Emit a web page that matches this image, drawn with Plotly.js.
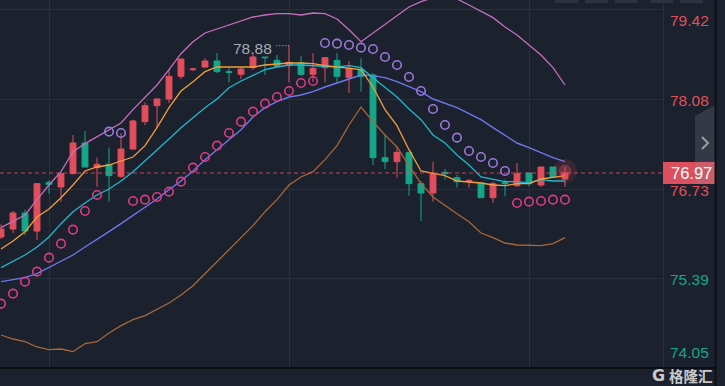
<!DOCTYPE html>
<html>
<head>
<meta charset="utf-8">
<script src="https://cdn.plot.ly/plotly-3.0.1.min.js"></script>
<style>
html,body{margin:0;padding:0;background:#1b212d;}
#chart{width:725px;height:386px;}
</style>
</head>
<body>
<div id="chart"></div>
<script>
// ---- data ----
const open  = [76.01,76.13,76.37,76.10,76.83,76.76,76.96,77.42,77.05,77.10,76.92,77.33,77.74,77.98,78.08,78.42,78.52,78.56,78.65,78.49,78.45,78.55,78.71,78.66,78.58,78.62,78.45,78.55,78.66,78.40,78.52,78.44,77.20,77.14,77.28,76.81,76.67,76.98,76.90,76.84,76.82,76.60,76.83,76.78,76.97,76.79,77.06,76.88];
const high  = [76.20,76.40,76.42,76.82,76.86,76.97,77.54,77.60,77.20,77.35,77.57,77.77,78.03,78.09,78.53,78.68,78.55,78.69,78.77,78.54,78.56,78.77,78.71,78.74,78.88,78.72,78.77,78.70,78.77,78.65,78.69,78.47,77.54,77.36,77.28,76.85,77.14,77.03,76.94,76.88,76.82,76.84,76.87,77.12,76.97,77.06,77.06,77.06];
const low   = [75.98,76.07,76.04,75.97,76.66,76.54,76.95,77.06,76.76,76.54,76.90,77.32,77.69,77.65,78.02,78.38,78.50,78.54,78.47,78.33,78.38,78.52,78.44,78.55,78.33,78.42,78.33,78.33,78.33,78.17,78.19,77.09,77.03,76.90,76.63,76.25,76.54,76.87,76.75,76.75,76.60,76.52,76.62,76.76,76.77,76.76,76.90,76.76];
const close = [76.13,76.37,76.10,76.81,76.80,76.96,77.42,77.06,77.10,76.93,77.33,77.75,77.98,78.08,78.42,78.68,78.53,78.65,78.49,78.48,78.53,78.71,78.70,78.57,78.63,78.45,78.54,78.70,78.42,78.54,78.42,77.20,77.14,77.28,76.81,76.67,76.96,76.96,76.84,76.86,76.60,76.81,76.81,76.96,76.81,77.06,76.91,76.97];

const ma5   = [75.83,75.95,76.09,76.31,76.43,76.60,76.79,77.00,77.06,77.09,77.15,77.21,77.38,77.65,77.95,78.20,78.34,78.49,78.56,78.56,78.55,78.56,78.59,78.61,78.62,78.62,78.61,78.58,78.56,78.55,78.52,78.26,77.92,77.68,77.32,77.00,76.97,76.93,76.85,76.84,76.82,76.79,76.78,76.81,76.81,76.88,76.90,76.93];
const ma10  = [75.55,75.64,75.74,75.86,76.01,76.21,76.39,76.52,76.64,76.73,76.85,76.99,77.15,77.32,77.48,77.65,77.80,77.95,78.08,78.25,78.35,78.44,78.52,78.56,78.59,78.59,78.58,78.58,78.56,78.58,78.55,78.40,78.25,78.11,77.93,77.77,77.54,77.42,77.24,77.09,76.91,76.87,76.84,76.84,76.82,76.87,76.85,76.85];
const bollMid   = [75.34,75.37,75.40,75.46,75.55,75.64,75.74,75.86,75.97,76.09,76.21,76.33,76.46,76.58,76.72,76.85,77.00,77.17,77.32,77.47,77.62,77.81,77.95,78.04,78.11,78.14,78.19,78.26,78.32,78.38,78.44,78.43,78.40,78.34,78.26,78.19,78.08,78.02,77.95,77.86,77.77,77.65,77.53,77.42,77.35,77.27,77.20,77.14];
const bollUpper = [76.15,76.24,76.34,76.57,76.79,76.99,77.29,77.41,77.51,77.62,77.72,77.92,78.11,78.29,78.52,78.76,78.94,79.07,79.13,79.19,79.24,79.31,79.34,79.36,79.36,79.34,79.37,79.36,79.28,79.12,78.94,79.07,79.21,79.34,79.46,79.54,79.60,79.61,79.58,79.49,79.40,79.30,79.16,79.04,78.89,78.74,78.55,78.29];
const bollLower = [74.54,74.48,74.44,74.36,74.32,74.33,74.29,74.41,74.44,74.57,74.68,74.77,74.83,74.92,75.02,75.14,75.28,75.46,75.64,75.82,76.00,76.18,76.39,76.57,76.79,76.91,76.99,77.17,77.38,77.69,77.96,77.74,77.54,77.36,77.08,76.81,76.61,76.48,76.36,76.24,76.07,76.00,75.92,75.89,75.88,75.88,75.91,76.00];
const sar = [75.01,75.16,75.34,75.49,75.70,75.91,76.12,76.40,76.64,77.59,77.57,76.55,76.57,76.61,76.69,76.84,77.05,77.21,77.38,77.57,77.74,77.89,78.01,78.11,78.20,78.32,78.35,78.92,78.91,78.89,78.85,78.83,78.71,78.59,78.41,78.20,77.93,77.69,77.50,77.30,77.21,77.12,77.00,76.52,76.54,76.55,76.57,76.57];

const yTickVals = [79.42, 78.08, 76.73, 75.39, 74.05];
const yTickText = ["79.42", "78.08", "76.73", "75.39", "74.05"];
const xGridIdx = [4, 24, 44];

// ---- styling / layout ----
const BG = '#1b212d', GRID = '#29303c', RED = '#e24f5c', GREEN = '#14a78a';
const W = 725, H = 386, PL = 0, PR = 663, PT = 0, PB = 368;
const x = close.map((_, i) => i);
const n = close.length;
const pxPerIdx = 12;
const xr = [-(1 - PL) / pxPerIdx, (PR - 1) / pxPerIdx];
const yr = [74.045, 79.565];
const valPerPx = (yr[1] - yr[0]) / (PB - PT);
const px2paperX = p => (p - PL) / (PR - PL);
const px2paperY = p => 1 - (p - PT) / (PB - PT);

const lineTrace = (y, color, w) => ({type: 'scatter', mode: 'lines', x: x, y: y,
  line: {color: color, width: w || 1.3, shape: 'linear'}, hoverinfo: 'skip', showlegend: false, cliponaxis: true});

const sarUp = sar.map((s, i) => s > close[i]);
const traces = [
  lineTrace(bollUpper, '#c66fbd', 1.3),
  lineTrace(bollLower, '#a8673a', 1.3),
  {type: 'candlestick', x: x, open: open, high: high, low: low, close: close,
   increasing: {line: {color: RED, width: 1}, fillcolor: RED},
   decreasing: {line: {color: GREEN, width: 1}, fillcolor: GREEN},
   whiskerwidth: 0, hoverinfo: 'skip', showlegend: false},
  lineTrace(bollMid, '#6e78ee', 1.4),
  lineTrace(ma10, '#21b8cc', 1.3),
  lineTrace(ma5, '#f39d38', 1.3),
  {type: 'scatter', mode: 'markers', x: x, y: sar, hoverinfo: 'skip', showlegend: false,
   marker: {symbol: 'circle-open', size: 8.5, line: {width: 1.6},
            color: sarUp.map(u => u ? '#9c78dc' : '#df3a86')}},
  {type: 'scatter', mode: 'markers', x: [n - 1, n - 1], y: [close[n - 1] + 0.03, close[n - 1] + 0.03],
   hoverinfo: 'skip', showlegend: false,
   marker: {size: [24, 13], color: ['rgba(230,70,85,0.22)', 'rgba(235,80,90,0.45)'], line: {width: 0}}}
];

// high label
let hiIdx = 0;
high.forEach((h, i) => { if (h > high[hiIdx]) hiIdx = i; });

const annotations = [];
yTickVals.forEach((v, i) => {
  let ys = -1;
  if (i === 0) ys = -10.5;
  if (i === yTickVals.length - 1) ys = 15;
  annotations.push({xref: 'paper', yref: 'y', x: px2paperX(669), y: v, xanchor: 'left', yanchor: 'middle',
    yshift: ys, text: yTickText[i], showarrow: false, borderpad: 0,
    font: {family: 'Liberation Sans, Arial, sans-serif', size: 15.5, color: i < 3 ? RED : GREEN}});
});
annotations.push({xref: 'paper', yref: 'y', x: px2paperX(669), y: close[n - 1], xanchor: 'left', yanchor: 'middle',
  text: close[n - 1].toFixed(2), showarrow: false,
  font: {family: 'Liberation Sans, Arial, sans-serif', size: 16.5, color: '#ffffff'}});
annotations.push({xref: 'x', yref: 'y', x: hiIdx, y: high[hiIdx], xanchor: 'right', yanchor: 'middle',
  xshift: -15, yshift: -3, text: high[hiIdx].toFixed(2), showarrow: false,
  font: {family: 'Liberation Sans, Arial, sans-serif', size: 15.5, color: '#a6aab2'}});
// watermark
annotations.push({xref: 'paper', yref: 'paper', x: px2paperX(651), y: px2paperY(375), xanchor: 'left', yanchor: 'middle',
  text: '<b>G</b>', showarrow: false, borderpad: 0,
  font: {family: 'DejaVu Sans, sans-serif', size: 16, color: 'rgba(225,225,225,0.9)'}});
annotations.push({xref: 'paper', yref: 'paper', x: px2paperX(668), y: px2paperY(375), xanchor: 'left', yanchor: 'middle',
  text: '格隆汇', showarrow: false, borderpad: 0,
  font: {family: 'Noto Sans CJK SC, sans-serif', size: 14.5, color: 'rgba(225,225,225,0.9)', weight: 700}});

const shapes = [
  // dotted leader for high label
  {type: 'line', xref: 'x', yref: 'y', x0: hiIdx - 1.05, x1: hiIdx, y0: high[hiIdx], y1: high[hiIdx],
   line: {color: '#c8ccd2', width: 1, dash: '1px,2px'}},
  // current price dashed line
  {type: 'line', xref: 'paper', yref: 'y', x0: 0, x1: 1, y0: close[n - 1], y1: close[n - 1],
   line: {color: 'rgba(226,79,92,0.85)', width: 1, dash: '4px,3px'}},
  // current price box
  {type: 'rect', xref: 'paper', yref: 'y', x0: 1, x1: px2paperX(715),
   y0: close[n - 1] - 11 * valPerPx, y1: close[n - 1] + 11 * valPerPx,
   fillcolor: '#dc4f5c', line: {width: 0}, layer: 'above'},
  // side button
  {type: 'path', xref: 'paper', yref: 'paper', layer: 'above',
   path: `M ${px2paperX(695)},${px2paperY(116)} L ${px2paperX(715)},${px2paperY(105)} L ${px2paperX(715)},${px2paperY(184)} L ${px2paperX(695)},${px2paperY(184)} Z`,
   fillcolor: 'rgba(140,145,155,0.22)', line: {width: 0}},
  {type: 'path', xref: 'paper', yref: 'paper', layer: 'above',
   path: `M ${px2paperX(702)},${px2paperY(137)} L ${px2paperX(708)},${px2paperY(143)} L ${px2paperX(702)},${px2paperY(149)}`,
   line: {color: '#9aa0a8', width: 2}},
  // bottom dark line
  {type: 'line', xref: 'paper', yref: 'paper', x0: 0, x1: px2paperX(716), y0: px2paperY(368), y1: px2paperY(368),
   line: {color: '#0b0e13', width: 2}},
  // right dark separator
  {type: 'line', xref: 'paper', yref: 'paper', x0: px2paperX(715.5), x1: px2paperX(715.5), y0: px2paperY(0), y1: px2paperY(386),
   line: {color: '#0d1015', width: 2}}
];
// top toolbar buttons, barely visible
[[555, 578], [585, 608], [615, 638], [650, 673], [680, 703]].forEach(b => {
  shapes.push({type: 'rect', xref: 'paper', yref: 'paper', x0: px2paperX(b[0]), x1: px2paperX(b[1]),
    y0: px2paperY(3), y1: px2paperY(-4), fillcolor: '#2c323e', line: {width: 0}, layer: 'above'});
});

const layout = {
  width: W, height: H,
  margin: {l: PL, r: W - PR, t: PT, b: H - PB, pad: 0},
  paper_bgcolor: BG, plot_bgcolor: BG,
  showlegend: false, hovermode: false, dragmode: false,
  xaxis: {type: 'linear', range: xr, tickvals: xGridIdx, showticklabels: false, ticks: '',
          showgrid: true, gridcolor: GRID, gridwidth: 1, zeroline: false, showline: false,
          rangeslider: {visible: false}, fixedrange: true},
  yaxis: {range: yr, side: 'right', tickvals: yTickVals, showticklabels: false, ticks: '',
          showgrid: true, gridcolor: GRID, gridwidth: 1, zeroline: false,
          showline: true, linecolor: GRID, linewidth: 1, fixedrange: true},
  annotations: annotations,
  shapes: shapes
};

Plotly.newPlot('chart', traces, layout, {staticPlot: true, displayModeBar: false});
</script>
</body>
</html>
